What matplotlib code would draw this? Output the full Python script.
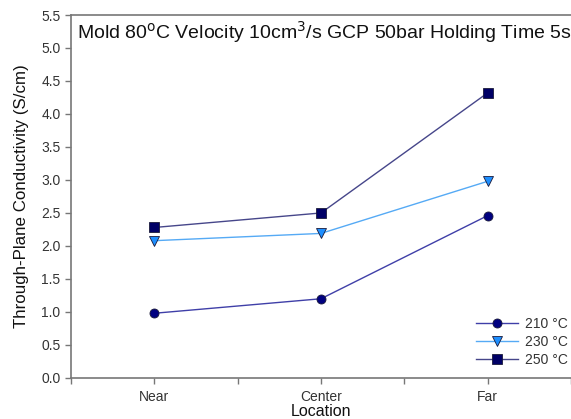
import matplotlib
matplotlib.use("Agg")
import matplotlib.pyplot as plt
import numpy as np

plt.rcParams['font.family'] = ['Liberation Sans', 'DejaVu Sans']

locations = ["Near", "Center", "Far"]
temps = ["210 \u00b0C", "230 \u00b0C", "250 \u00b0C"]
cond_210 = [0.98, 1.20, 2.46]
cond_230 = [2.08, 2.19, 2.98]
cond_250 = [2.28, 2.50, 4.32]

series = [
    (cond_210, temps[0], "o", "#000080", "#3f3fa8", 6.5),
    (cond_230, temps[1], "v", "#1e8fff", "#55aaf5", 7),
    (cond_250, temps[2], "s", "#000066", "#46468a", 6.5),
]

fig = plt.figure(figsize=(5.71, 4.19), dpi=100)
ax = fig.add_axes([0.1243, 0.098, 0.8757, 0.8662])

x = np.arange(len(locations))
for vals, lab, mk, mc, lc, ms in series:
    ax.plot(x, vals, color=lc, lw=1.0, marker=mk, markersize=ms,
            markerfacecolor=mc, markeredgecolor="#1a1a3a", markeredgewidth=0.6,
            label=lab)

ax.set_xlim(-0.5, 2.5)
ax.set_ylim(0, 5.5)
ax.set_xticks(x)
ax.set_xticklabels(locations)
ax.set_xticks([-0.5, 0.5, 1.5, 2.5], minor=True)
ax.set_yticks(np.arange(0, 5.51, 0.5))
ax.set_yticklabels([f"{v:.1f}" for v in np.arange(0, 5.51, 0.5)])

for side in ("left", "bottom", "top"):
    ax.spines[side].set_color("#777777")
    ax.spines[side].set_linewidth(1.2)
ax.spines["right"].set_visible(False)

ax.tick_params(axis="both", which="both", direction="out", colors="#777777",
               labelcolor="#333333", labelsize=10, length=4, width=1.0)
ax.tick_params(axis="x", pad=5)

ax.set_xlabel("Location", fontsize=11.5, color="#111111", labelpad=0)
ax.set_ylabel("Through-Plane Conductivity (S/cm)", fontsize=12.2,
              color="#111111", labelpad=9)

ax.text(0.012, 0.99,
        "Mold 80$^{\\mathrm{o}}$C Velocity 10cm$^{3}$/s GCP 50bar Holding Time 5s",
        transform=ax.transAxes, ha="left", va="top", fontsize=14, color="#111111")

ax.legend(loc="lower right", frameon=False, fontsize=10, handlelength=3.0,
          handletextpad=0.5, labelspacing=0.3, labelcolor="#333333",
          borderaxespad=0, bbox_to_anchor=(1.005, 0.015))

fig.savefig("out.png", dpi=100)
